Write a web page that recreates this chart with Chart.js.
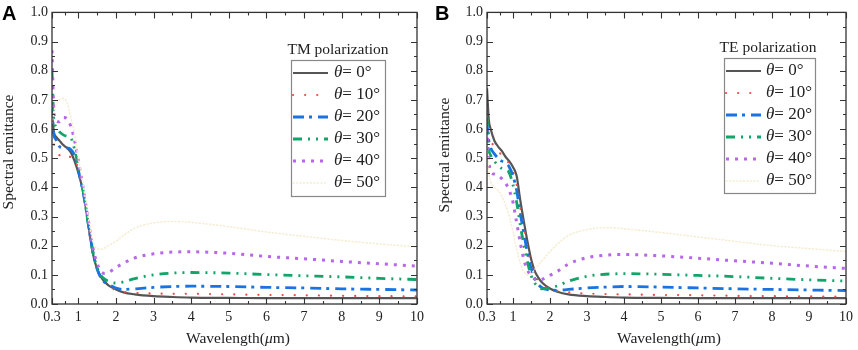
<!DOCTYPE html>
<html>
<head>
<meta charset="utf-8">
<script src="https://cdn.jsdelivr.net/npm/chart.js@4.4.1/dist/chart.umd.min.js"></script>
<style>
  body { margin: 0; background: #fff; width: 858px; height: 350px; overflow: hidden; }
  .panel { position: absolute; top: 0; width: 429px; height: 350px; }
</style>
</head>
<body>
<div class="panel" style="left:0"><canvas id="chartA" width="429" height="350"></canvas></div>
<div class="panel" style="left:429px"><canvas id="chartB" width="429" height="350"></canvas></div>
<script>
// wavelength grid (um) and tick values
const wavelength = [0.3, 0.35, 0.4, 0.5, 0.6, 0.7, 0.8, 0.9, 1.0, 1.1, 1.2, 1.3, 1.4, 1.5, 1.6, 1.7, 1.8, 2.0, 2.2, 2.5, 3, 3.5, 4, 5, 6, 7, 8, 9, 10];
const xTicks = [0.3, 1, 2, 3, 4, 5, 6, 7, 8, 9, 10];
const xMinorTicks = [0.65, 1.5, 2.5, 3.5, 4.5, 5.5, 6.5, 7.5, 8.5, 9.5];
const angles = ["0°", "10°", "20°", "30°", "40°", "50°"];

// TM polarization (panel A)
const tm0  = [0.66, 0.59, 0.575, 0.56, 0.545, 0.535, 0.52, 0.49, 0.45, 0.40, 0.33, 0.24, 0.165, 0.12, 0.093, 0.076, 0.064, 0.05, 0.04, 0.033, 0.027, 0.024, 0.022, 0.021, 0.02, 0.02, 0.02, 0.02, 0.02];
const tm10 = [0.63, 0.55, 0.53, 0.51, 0.50, 0.50, 0.505, 0.50, 0.46, 0.40, 0.33, 0.245, 0.17, 0.12, 0.09, 0.072, 0.06, 0.048, 0.042, 0.038, 0.036, 0.035, 0.035, 0.033, 0.031, 0.03, 0.028, 0.027, 0.026];
const tm20 = [0.68, 0.58, 0.565, 0.54, 0.535, 0.535, 0.53, 0.51, 0.46, 0.40, 0.33, 0.245, 0.17, 0.12, 0.09, 0.075, 0.067, 0.055, 0.05, 0.052, 0.057, 0.06, 0.061, 0.06, 0.057, 0.055, 0.052, 0.05, 0.048];
const tm30 = [0.80, 0.63, 0.61, 0.59, 0.58, 0.575, 0.57, 0.53, 0.47, 0.41, 0.33, 0.245, 0.17, 0.125, 0.098, 0.085, 0.078, 0.072, 0.076, 0.087, 0.10, 0.106, 0.108, 0.106, 0.101, 0.097, 0.093, 0.088, 0.084];
const tm40 = [0.87, 0.66, 0.63, 0.625, 0.64, 0.635, 0.61, 0.56, 0.49, 0.42, 0.34, 0.26, 0.185, 0.14, 0.112, 0.105, 0.108, 0.125, 0.14, 0.158, 0.172, 0.178, 0.179, 0.174, 0.163, 0.155, 0.146, 0.138, 0.13];
const tm50 = [0.62, 0.66, 0.68, 0.70, 0.705, 0.69, 0.64, 0.58, 0.50, 0.43, 0.35, 0.27, 0.21, 0.19, 0.188, 0.192, 0.20, 0.215, 0.235, 0.26, 0.278, 0.283, 0.28, 0.265, 0.247, 0.232, 0.218, 0.206, 0.196];

// TE polarization (panel B)
const te0  = [0.74, 0.63, 0.60, 0.56, 0.54, 0.525, 0.505, 0.49, 0.47, 0.44, 0.355, 0.28, 0.21, 0.15, 0.11, 0.088, 0.072, 0.053, 0.042, 0.033, 0.027, 0.024, 0.022, 0.021, 0.02, 0.02, 0.02, 0.02, 0.02];
const te10 = [0.67, 0.58, 0.56, 0.54, 0.525, 0.51, 0.50, 0.48, 0.455, 0.41, 0.33, 0.26, 0.19, 0.135, 0.098, 0.077, 0.064, 0.05, 0.045, 0.04, 0.036, 0.034, 0.033, 0.031, 0.03, 0.028, 0.027, 0.026, 0.025];
const te20 = [0.62, 0.56, 0.535, 0.515, 0.50, 0.49, 0.485, 0.47, 0.44, 0.39, 0.31, 0.24, 0.17, 0.12, 0.085, 0.065, 0.055, 0.048, 0.047, 0.05, 0.055, 0.058, 0.06, 0.058, 0.055, 0.052, 0.05, 0.048, 0.046];
const te30 = [0.64, 0.53, 0.51, 0.49, 0.475, 0.465, 0.46, 0.45, 0.41, 0.35, 0.27, 0.20, 0.14, 0.095, 0.07, 0.057, 0.052, 0.055, 0.062, 0.078, 0.095, 0.102, 0.104, 0.102, 0.098, 0.094, 0.088, 0.083, 0.079];
const te40 = [0.60, 0.49, 0.455, 0.445, 0.44, 0.43, 0.415, 0.39, 0.35, 0.28, 0.21, 0.15, 0.115, 0.095, 0.085, 0.082, 0.085, 0.098, 0.112, 0.137, 0.159, 0.167, 0.17, 0.165, 0.157, 0.148, 0.14, 0.13, 0.122];
const te50 = [0.55, 0.45, 0.42, 0.40, 0.39, 0.37, 0.34, 0.30, 0.25, 0.19, 0.14, 0.11, 0.10, 0.105, 0.12, 0.135, 0.15, 0.18, 0.205, 0.235, 0.255, 0.262, 0.258, 0.245, 0.23, 0.215, 0.20, 0.19, 0.18];

const lineStyles = [
  { borderColor: "#555555", borderWidth: 2.2, borderDash: [], borderCapStyle: "butt" },
  { borderColor: "#f24a4a", borderWidth: 2.2, borderDash: [0.1, 12], borderCapStyle: "round" },
  { borderColor: "#1a73e3", borderWidth: 2.8, borderDash: [11, 5, 3, 6], borderCapStyle: "butt" },
  { borderColor: "#12a468", borderWidth: 2.8, borderDash: [9, 6, 2, 6, 2, 6], borderCapStyle: "butt" },
  { borderColor: "#b866ea", borderWidth: 3, borderDash: [3, 6], borderCapStyle: "butt" },
  { borderColor: "#f6edd2", borderWidth: 1.6, borderDash: [1, 2.5], borderCapStyle: "round" },
];

const serif = "'Liberation Serif', 'Times New Roman', serif";

// inward ticks on all four sides, panel letter, axis titles, legend
const decorPlugin = {
  id: "decor",
  afterDraw(chart) {
    const ctx = chart.ctx;
    const a = chart.chartArea;
    const xs = chart.scales.x;
    const ys = chart.scales.y;
    const cfg = chart.options.plugins.decor;
    ctx.save();
    ctx.strokeStyle = "#333";
    ctx.lineWidth = 1.3;
    ctx.setLineDash([]);
    ctx.strokeRect(a.left, a.top, a.right - a.left, a.bottom - a.top);

    ctx.lineWidth = 1.1;
    const tickX = (v, len) => {
      const p = Math.round(xs.getPixelForValue(v)) + 0.5;
      ctx.beginPath();
      ctx.moveTo(p, a.bottom); ctx.lineTo(p, a.bottom - len);
      ctx.moveTo(p, a.top); ctx.lineTo(p, a.top + len);
      ctx.stroke();
    };
    const tickY = (v, len) => {
      const p = Math.round(ys.getPixelForValue(v)) + 0.5;
      ctx.beginPath();
      ctx.moveTo(a.left, p); ctx.lineTo(a.left + len, p);
      ctx.moveTo(a.right, p); ctx.lineTo(a.right - len, p);
      ctx.stroke();
    };
    xTicks.forEach(v => tickX(v, 6));
    xMinorTicks.forEach(v => tickX(v, 3));
    for (let i = 0; i <= 20; i++) tickY(i * 0.05, i % 2 === 0 ? 6 : 3);

    // panel letter
    ctx.fillStyle = "#000";
    ctx.font = "bold 20px 'Liberation Sans', Arial, sans-serif";
    ctx.textAlign = "left";
    ctx.textBaseline = "top";
    ctx.fillText(cfg.letter, cfg.letterX, cfg.letterY);

    // x title with italic mu
    ctx.fillStyle = "#222";
    ctx.textBaseline = "middle";
    const parts = [["Wavelength(", ""], ["μ", "italic "], ["m)", ""]];
    let total = 0;
    parts.forEach(p => { ctx.font = p[1] + "15.5px " + serif; total += ctx.measureText(p[0]).width; });
    let x = cfg.xTitleX - total / 2;
    parts.forEach(p => {
      ctx.font = p[1] + "15.5px " + serif;
      ctx.fillText(p[0], x, cfg.xTitleY);
      x += ctx.measureText(p[0]).width;
    });

    // y title
    ctx.save();
    ctx.translate(cfg.yTitleX, cfg.yTitleY);
    ctx.rotate(-Math.PI / 2);
    ctx.textAlign = "center";
    ctx.font = "15.5px " + serif;
    ctx.fillText("Spectral emittance", 0, 0);
    ctx.restore();

    // legend
    const lg = cfg.legend;
    ctx.textAlign = "center";
    ctx.font = "15.5px " + serif;
    ctx.fillText(lg.title, lg.titleX, lg.titleY);
    ctx.fillStyle = "#fff";
    ctx.fillRect(lg.left, lg.top, lg.right - lg.left, lg.bottom - lg.top);
    ctx.strokeStyle = "#888";
    ctx.lineWidth = 1.2;
    ctx.strokeRect(lg.left + 0.5, lg.top + 0.5, lg.right - lg.left, lg.bottom - lg.top);
    chart.data.datasets.forEach((ds, i) => {
      const y = lg.rowY + i * 22;
      ctx.beginPath();
      ctx.setLineDash(ds.borderDash);
      ctx.lineCap = ds.borderCapStyle;
      ctx.strokeStyle = ds.borderColor;
      ctx.lineWidth = ds.borderWidth;
      ctx.moveTo(lg.sampleX0, y);
      ctx.lineTo(lg.sampleX1, y);
      ctx.stroke();
      ctx.setLineDash([]);
      ctx.fillStyle = "#222";
      ctx.textAlign = "left";
      ctx.font = "italic 17px " + serif;
      ctx.fillText("θ", lg.textX, y);
      const w = ctx.measureText("θ").width;
      ctx.font = "17px " + serif;
      ctx.fillText("= " + angles[i], lg.textX + w, y);
    });
    ctx.restore();
  },
};

const makeChart = (id, series, area, decor) => {
  const ctx = document.getElementById(id);
  return new Chart(ctx, {
    type: "line",
    data: {
      datasets: series.map((vals, i) => ({
        label: "θ= " + angles[i],
        data: wavelength.map((w, k) => ({ x: w, y: vals[k] })),
        ...lineStyles[i],
        pointRadius: 0,
        fill: false,
        cubicInterpolationMode: "monotone",
        order: 6 - i,
      })),
    },
    options: {
      responsive: false,
      animation: false,
      events: [],
      layout: {
        autoPadding: false,
        padding: { left: 0, top: area.top, right: 429 - area.right, bottom: 0 },
      },
      plugins: {
        legend: { display: false },
        tooltip: { enabled: false },
        decor: decor,
      },
      scales: {
        x: {
          type: "linear",
          min: 0.3,
          max: 10,
          grid: { display: false, drawTicks: false },
          border: { display: false },
          afterBuildTicks: (scale) => { scale.ticks = xTicks.map(v => ({ value: v })); },
          afterFit: (scale) => { scale.height = 350 - area.bottom; },
          ticks: {
            autoSkip: false,
            maxRotation: 0,
            padding: 5,
            color: "#222",
            font: { family: serif, size: 14 },
            callback: (v) => String(v),
          },
        },
        y: {
          min: 0,
          max: 1,
          grid: { display: false, drawTicks: false },
          border: { display: false },
          afterFit: (scale) => { scale.width = area.left; },
          ticks: {
            stepSize: 0.1,
            padding: 4,
            color: "#222",
            font: { family: serif, size: 14 },
            callback: (v) => v.toFixed(1),
          },
        },
      },
    },
    plugins: [decorPlugin],
  });
};

makeChart("chartA", [tm0, tm10, tm20, tm30, tm40, tm50], { left: 52, right: 424, top: 10, bottom: 304 }, {
  letter: "A", letterX: 2, letterY: 4,
  xTitleX: 238, xTitleY: 339, yTitleX: 9, yTitleY: 152,
  legend: {
    title: "TM polarization", titleX: 338, titleY: 50,
    left: 291, top: 60, right: 385, bottom: 196,
    rowY: 73, sampleX0: 293, sampleX1: 328, textX: 334,
  },
});

makeChart("chartB", [te0, te10, te20, te30, te40, te50], { left: 58, right: 422, top: 6, bottom: 304 }, {
  letter: "B", letterX: 6, letterY: 4,
  xTitleX: 240, xTitleY: 339, yTitleX: 16, yTitleY: 155,
  legend: {
    title: "TE polarization", titleX: 339, titleY: 48,
    left: 295, top: 58, right: 386, bottom: 193,
    rowY: 71, sampleX0: 297, sampleX1: 332, textX: 337,
  },
});
</script>
</body>
</html>
